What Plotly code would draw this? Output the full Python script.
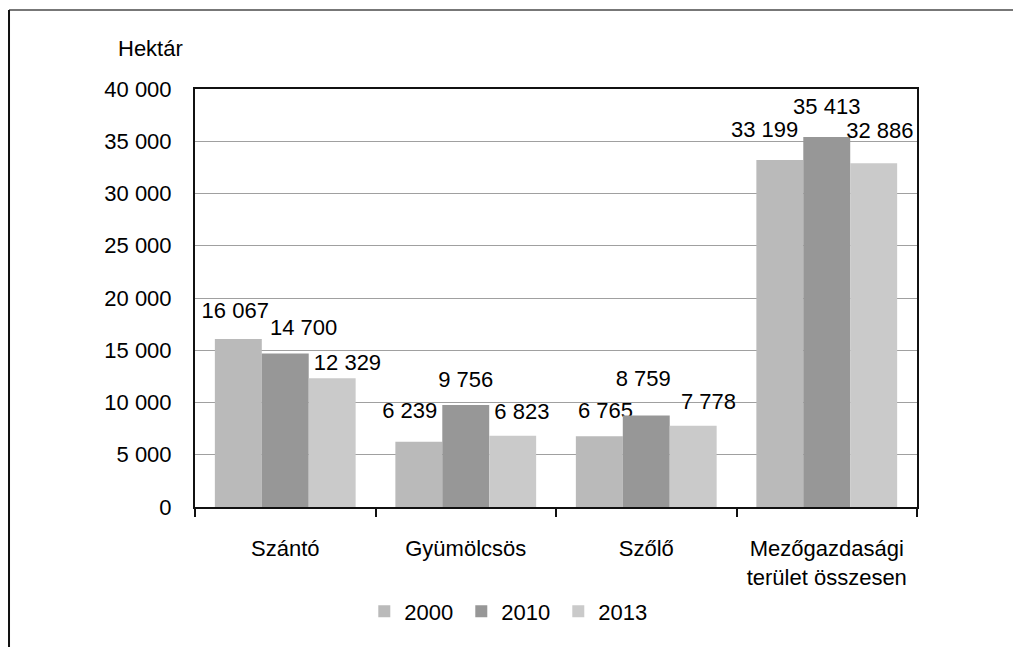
import plotly.graph_objects as go

categories = ["Szántó", "Gyümölcsös", "Szőlő", "Mezőgazdasági<br>terület összesen"]
years = ["2000", "2010", "2013"]
values_2000 = [16067, 6239, 6765, 33199]
values_2010 = [14700, 9756, 8759, 35413]
values_2013 = [12329, 6823, 7778, 32886]
colors = ["#bababa", "#979797", "#cacaca"]

# the original's value labels were nudged by hand; these mimic that placement
# label_shift: number of non-breaking spaces (+ right, - left)
# label_lift: font size of the empty line under the number (bigger = higher)
label_shift = {
    "2000": [-1, -3, 2, -5],
    "2010": [6, 0, -1, 0],
    "2013": [5, 3, 5, 2],
}
label_lift = {
    "2000": [12, 14, 10, 13],
    "2010": [10, 10, 17, 13],
    "2013": [3, 9, 9, 15],
}

NB = "\u00a0"


def label_templates(shifts):
    out = []
    for s in shifts:
        num = "%{y:,.0f}"
        if s > 0:
            num = NB * s + num
        elif s < 0:
            num = num + NB * (-s)
        out.append("<span style='font-size:22px'>" + num + "</span><br> ")
    return out


fig = go.Figure()

for year, vals, col in zip(years, [values_2000, values_2010, values_2013], colors):
    fig.add_bar(
        x=categories,
        y=vals,
        name=year,
        marker=dict(color=col, line=dict(width=0)),
        texttemplate=label_templates(label_shift[year]),
        textposition="outside",
        constraintext="none",
        cliponaxis=False,
        textfont=dict(size=label_lift[year], color="#000000"),
    )

# page body has an 8px margin, so margins are shifted to line up with the reference
fig.update_layout(
    width=1021,
    height=647,
    barmode="group",
    bargap=0.22,
    bargroupgap=0,
    separators=", ",
    plot_bgcolor="white",
    paper_bgcolor="white",
    font=dict(family="Liberation Sans, Arial, sans-serif", size=22, color="#000000"),
    margin=dict(l=187, r=112, t=81, b=148),
    showlegend=True,
    legend=dict(
        orientation="h",
        x=0.436,
        y=-0.25,
        xanchor="center",
        yanchor="middle",
        font=dict(size=22),
        itemwidth=30,
        entrywidth=52,
        traceorder="normal",
    ),
    annotations=[
        dict(
            text="Hektár",
            xref="paper",
            yref="paper",
            x=-0.062,
            y=1.098,
            xanchor="center",
            yanchor="middle",
            showarrow=False,
            font=dict(size=22),
        )
    ],
    shapes=[
        dict(type="line", xref="paper", yref="paper",
             x0=-0.2576, x1=1.2, y0=1.189, y1=1.189,
             line=dict(color="#777777", width=2)),
        dict(type="line", xref="paper", yref="paper",
             x0=-0.2576, x1=-0.2576, y0=1.189, y1=-0.36,
             line=dict(color="#111111", width=2)),
    ],
)

fig.update_yaxes(
    range=[0, 40000],
    dtick=5000,
    tickformat=",d",
    showgrid=True,
    gridcolor="#a0a0a0",
    gridwidth=1,
    showline=True,
    linecolor="#111111",
    linewidth=2,
    mirror=True,
    ticks="",
    ticklabelstandoff=17,
    zeroline=False,
)

fig.update_xaxes(
    showline=True,
    linecolor="#111111",
    linewidth=2,
    mirror=True,
    ticks="outside",
    tickson="boundaries",
    ticklen=8,
    tickwidth=2,
    tickcolor="#111111",
    ticklabelstandoff=21,
)

fig.write_html("out.html")
